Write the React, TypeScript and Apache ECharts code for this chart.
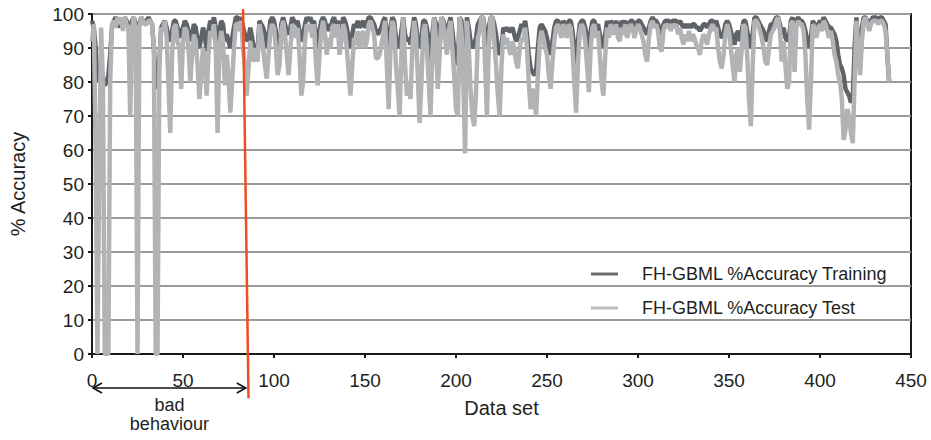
import React, { useEffect, useRef } from "react";
import * as echarts from "echarts";

// ---- data ----
const xTicks = [0, 50, 100, 150, 200, 250, 300, 350, 400, 450];
const yTicks = [0, 10, 20, 30, 40, 50, 60, 70, 80, 90, 100];
const seriesNames = ["FH-GBML %Accuracy Training", "FH-GBML %Accuracy Test"];
const badBehaviourStart = 0;
const badBehaviourEnd = 85;
const annotationText = ["bad", "behaviour"];

const trainingValues = [
  98, 96, 90, 82, 80, 85, 80, 79, 80, 82,
  88, 96, 98, 99, 98, 96, 99, 97, 99, 98,
  97, 92, 98, 99, 97, 95, 97, 99, 98, 97,
  98, 99, 98, 97, 90, 80, 78, 86, 96, 97,
  98, 96, 93, 92, 95, 98, 98, 96, 95, 93,
  96, 98, 97, 95, 92, 94, 97, 96, 92, 90,
  93, 96, 94, 89, 95, 98, 97, 99, 96, 92,
  95, 98, 97, 92, 94, 92, 90, 93, 96, 99,
  99, 98, 99, 96, 94, 92, 93, 96, 93, 90,
  91, 89, 98, 97, 96, 94, 90, 93, 98, 99,
  98, 95, 88, 87, 97, 99, 97, 95, 94, 96,
  99, 98, 97, 98, 95, 92, 93, 97, 99, 98,
  99, 97, 98, 94, 90, 95, 98, 99, 98, 95,
  97, 95, 98, 99, 97, 98, 94, 96, 99, 98,
  96, 93, 90, 94, 97, 96, 98, 96, 97, 98,
  96, 97, 99, 99, 98, 97, 95, 94, 95, 96,
  98, 99, 94, 90, 96, 99, 98, 93, 90, 91,
  95, 99, 94, 92, 93, 91, 95, 99, 97, 92,
  90, 93, 98, 98, 96, 92, 78, 94, 99, 97,
  92, 95, 99, 98, 96, 93, 97, 99, 95, 90,
  88, 85, 99, 98, 88, 76, 99, 96, 92, 90,
  91, 93, 97, 98, 99, 99, 94, 90, 96, 99,
  99, 97, 94, 90, 88, 90, 96, 95, 96, 95,
  95, 96, 94, 92, 93, 95, 97, 96, 98, 94,
  88, 84, 83, 82, 83, 90, 96, 97, 96, 95,
  93, 90, 88, 92, 96, 98, 98, 97, 96, 98,
  97, 96, 98, 98, 95, 90, 85, 92, 97, 98,
  98, 96, 93, 89, 95, 98, 98, 96, 97, 94,
  92, 90, 94, 98, 96, 98, 97, 96, 98, 96,
  95, 98, 97, 98, 96, 97, 98, 98, 96, 97,
  98, 98, 97, 96, 95, 94, 96, 98, 99, 98,
  98, 97, 95, 94, 97, 98, 98, 98, 97, 98,
  98, 98, 97, 98, 97, 96, 97, 96, 97, 96,
  97, 97, 96, 96, 95, 96, 97, 97, 96, 97,
  98, 98, 97, 98, 96, 94, 93, 94, 97, 98,
  97, 95, 93, 91, 94, 95, 92, 95, 98, 98,
  95, 92, 90, 94, 99, 99, 98, 97, 96, 95,
  93, 92, 95, 97, 97, 98, 99, 99, 97, 94,
  96, 93, 92, 93, 98, 99, 92, 98, 99, 98,
  98, 97, 95, 92, 90, 93, 98, 97, 96, 97,
  98, 97, 99, 98, 97, 96, 96, 95, 94, 92,
  88, 85, 84, 82, 78, 77, 76, 74, 75, 90,
  99, 90, 84, 96, 99, 99, 98, 97, 98, 99,
  99, 99, 98, 99, 99, 98, 97, 88, 80,
];

const testValues = [
  92, 97, 60, 0, 55, 96, 80, 0, 0, 0,
  80, 97, 98, 96, 99, 97, 99, 95, 99, 97,
  96, 70, 96, 99, 95, 0, 96, 99, 98, 97,
  97, 98, 98, 97, 90, 0, 0, 85, 96, 95,
  98, 93, 80, 65, 88, 96, 97, 92, 90, 78,
  92, 96, 95, 90, 80, 88, 94, 92, 85, 75,
  82, 90, 86, 76, 88, 95, 93, 97, 90, 65,
  90, 95, 92, 79, 88, 82, 71, 80, 90, 97,
  97, 95, 98, 90, 85, 76, 84, 92, 88, 86,
  90, 86, 97, 94, 90, 85, 81, 88, 95, 97,
  96, 90, 82, 85, 95, 98, 94, 88, 82, 90,
  97, 96, 93, 96, 88, 76, 80, 92, 97, 95,
  97, 93, 97, 86, 79, 88, 95, 98, 94, 88,
  93, 90, 96, 97, 93, 97, 88, 92, 97, 95,
  90, 83, 76, 85, 93, 91, 95, 90, 94, 95,
  90, 92, 97, 98, 96, 94, 87, 87, 88, 91,
  94, 98, 85, 72, 90, 98, 96, 85, 78, 70,
  88, 99, 85, 76, 80, 75, 90, 98, 94, 82,
  68, 80, 95, 97, 90, 80, 70, 88, 99, 92,
  78, 88, 99, 97, 93, 88, 95, 98, 90, 82,
  72, 70, 99, 95, 80, 59, 98, 90, 78, 70,
  67, 77, 93, 95, 99, 99, 85, 70, 90, 99,
  99, 92, 85, 76, 70, 85, 94, 91, 93, 90,
  88, 92, 90, 86, 84, 90, 93, 92, 96, 90,
  80, 72, 78, 76, 70, 82, 92, 95, 93, 90,
  88, 82, 78, 86, 92, 96, 97, 95, 93, 97,
  95, 93, 97, 96, 90, 80, 71, 85, 95, 97,
  96, 92, 85, 77, 90, 96, 97, 93, 95, 88,
  80, 76, 88, 96, 93, 97, 95, 94, 97, 93,
  92, 96, 94, 97, 93, 95, 97, 96, 93, 95,
  97, 96, 94, 92, 88, 86, 93, 97, 98, 96,
  97, 95, 90, 89, 95, 97, 96, 97, 95, 97,
  96, 97, 94, 96, 93, 91, 94, 92, 95, 92,
  94, 93, 91, 90, 88, 92, 94, 93, 91, 94,
  96, 97, 95, 96, 90, 86, 84, 88, 94, 97,
  95, 90, 85, 80, 88, 90, 83, 90, 97, 96,
  88, 75, 67, 85, 98, 98, 97, 95, 93, 90,
  86, 85, 90, 94, 95, 96, 98, 99, 95, 86,
  92, 85, 78, 80, 97, 98, 83, 96, 98, 97,
  97, 95, 88, 75, 66, 80, 97, 96, 93, 96,
  97, 95, 98, 97, 95, 93, 95, 92, 88, 86,
  82, 80, 75, 63, 66, 72, 70, 65, 62, 80,
  98, 90, 82, 92, 98, 99, 97, 95, 97, 98,
  98, 98, 97, 98, 98, 97, 95, 88, 80,
];

const FONT = "'Liberation Sans', Arial, sans-serif";
const TEXT = "#231f20";

export default function App() {
  const ref = useRef<HTMLDivElement>(null);

  useEffect(() => {
    document.body.style.margin = "0";
    if (!ref.current) return;
    const chart = echarts.init(ref.current, null, { renderer: "svg" });

    const toPairs = (arr: number[]) => arr.map((v, i) => [i, v]);

    chart.setOption({
      animation: false,
      backgroundColor: "#ffffff",
      grid: {
        left: 92,
        right: 20,
        top: 14,
        bottom: 86,
        show: true,
        borderColor: "#1a1a1a",
        borderWidth: 2,
      },
      legend: {
        orient: "vertical",
        left: 586,
        top: 259,
        itemWidth: 27,
        itemHeight: 3,
        itemGap: 14,
        icon: "rect",
        data: [
          { name: seriesNames[0], itemStyle: { color: "#6a6d70" } },
          { name: seriesNames[1], itemStyle: { color: "#bcbdbf" } },
        ],
        textStyle: {
          fontFamily: FONT,
          fontSize: 18,
          color: TEXT,
          lineHeight: 20,
          padding: [0, 0, 0, 19],
        },
      },
      xAxis: {
        type: "value",
        min: xTicks[0],
        max: xTicks[xTicks.length - 1],
        interval: xTicks[1] - xTicks[0],
        name: "Data set",
        nameLocation: "middle",
        nameGap: 44,
        nameTextStyle: { fontFamily: FONT, fontSize: 20, color: TEXT },
        axisLine: { show: true, lineStyle: { color: "#1a1a1a", width: 2 } },
        axisTick: { show: true, length: 4, lineStyle: { color: "#1a1a1a", width: 2 } },
        axisLabel: { fontFamily: FONT, fontSize: 19, color: TEXT, margin: 17 },
        splitLine: { show: false },
      },
      yAxis: {
        type: "value",
        min: yTicks[0],
        max: yTicks[yTicks.length - 1],
        interval: yTicks[1] - yTicks[0],
        name: "% Accuracy",
        nameLocation: "middle",
        nameGap: 64,
        nameTextStyle: { fontFamily: FONT, fontSize: 20, color: TEXT },
        axisLine: { show: true, lineStyle: { color: "#1a1a1a", width: 2 } },
        axisTick: { show: true, length: 4, lineStyle: { color: "#1a1a1a", width: 2 } },
        axisLabel: { fontFamily: FONT, fontSize: 19, color: TEXT, margin: 8 },
        splitLine: { show: true, lineStyle: { color: "#9a9a9a", width: 2 } },
      },
      series: [
        {
          name: seriesNames[0],
          type: "line",
          data: toPairs(trainingValues),
          showSymbol: false,
          symbol: "none",
          lineStyle: { color: "#5f6367", width: 4.5 },
          itemStyle: { color: "#6a6d70" },
          emphasis: { disabled: true },
        },
        {
          name: seriesNames[1],
          type: "line",
          data: toPairs(testValues),
          showSymbol: false,
          symbol: "none",
          lineStyle: { color: "#b1b3b5", width: 4.5 },
          itemStyle: { color: "#bcbdbf" },
          emphasis: { disabled: true },
        },
      ],
    });

    // annotation: red separator and "bad behaviour" arrow
    const px = (x: number, y: number) =>
      chart.convertToPixel({ gridIndex: 0 }, [x, y]) as number[];
    const redTop = px(badBehaviourEnd - 2, 101.5);
    const redBottom = px(badBehaviourEnd + 1, -13);
    const a0 = px(badBehaviourStart, 0);
    const a1 = px(badBehaviourEnd - 0.5, 0);
    const ay = a0[1] + 34;
    const x0 = a0[0] + 1;
    const x1 = a1[0];
    const mid = (x0 + x1) / 2;
    const headW = 9;
    const headH = 5;
    const stroke = { stroke: "#111", lineWidth: 1.6, fill: null };

    chart.setOption({
      graphic: [
        {
          type: "line",
          shape: { x1: redTop[0], y1: redTop[1], x2: redBottom[0], y2: redBottom[1] },
          style: { stroke: "#ee4d22", lineWidth: 2.5 },
          z: 100,
        },
        { type: "line", shape: { x1: x0, y1: ay, x2: x1, y2: ay }, style: stroke, z: 100 },
        {
          type: "polyline",
          shape: { points: [[x0 + headW, ay - headH], [x0, ay], [x0 + headW, ay + headH]] },
          style: stroke,
          z: 100,
        },
        {
          type: "polyline",
          shape: { points: [[x1 - headW, ay - headH], [x1, ay], [x1 - headW, ay + headH]] },
          style: stroke,
          z: 100,
        },
        {
          type: "text",
          x: mid,
          y: ay + 17,
          style: {
            text: annotationText[0],
            fontFamily: FONT,
            fontSize: 18,
            fill: TEXT,
            align: "center",
            verticalAlign: "middle",
          },
        },
        {
          type: "text",
          x: mid,
          y: ay + 36,
          style: {
            text: annotationText[1],
            fontFamily: FONT,
            fontSize: 18,
            fill: TEXT,
            align: "center",
            verticalAlign: "middle",
          },
        },
      ],
    });

    return () => chart.dispose();
  }, []);

  return <div ref={ref} style={{ width: 931, height: 440 }} />;
}
